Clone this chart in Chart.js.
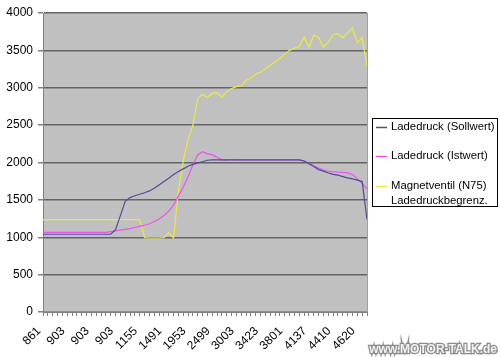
<!DOCTYPE html>
<html>
<head>
<meta charset="utf-8">
<script src="https://cdn.jsdelivr.net/npm/chart.js@4/dist/chart.umd.min.js"></script>
<style>
  html, body { margin: 0; padding: 0; background: #ffffff; }
  #c { display: block; }
</style>
</head>
<body>
<canvas id="c" width="500" height="357"></canvas>
<script>
// ---- data ----
const tickLabels = ['861','903','903','903','1155','1491','1953','2499','3003','3423','3801','4137','4410','4620'];
const categories = Array.from({length: 68}, (_, i) => String(i));

const sollwert = [
  1040,1040,1040,1040,1040,1040,1040,1040,1040,1040,1040,1040,1040,1040,1040,
  1100,1290,1480,1530,1555,1575,1595,1620,1655,1700,1745,1790,1840,1880,1915,
  1950,1975,1995,2010,2030,
  2035,2035,2035,2035,2035,2035,2035,2035,2035,2035,2035,2035,2035,2035,2035,2035,2035,2035,2035,
  2020,1985,1945,1905,1885,1860,1842,1830,1812,1795,1780,1765,1745,1240
];
const istwert = [
  1065,1065,1065,1065,1065,1065,1065,1065,1065,1065,1065,1065,1065,1065,
  1075,1085,1095,1105,1115,1130,1145,1160,1180,1210,1245,1290,1350,1430,1550,1670,
  1810,1970,2100,2145,2115,2105,2070,2035,2030,2040,
  2035,2035,2035,2035,2035,2035,2035,2035,2035,2035,2035,2035,2035,2035,
  2020,1990,1955,1925,1900,1880,1875,1870,1868,1862,1840,1785,1720,1645
];
const magnetventil = [
  1235,1235,1235,1235,1235,1235,1235,1235,1235,1235,1235,1235,1235,1235,1235,1235,1235,1235,1235,1235,1235,
  995,990,990,990,995,1060,990,1620,2020,2310,2500,2860,2910,2870,2925,2935,2870,2950,2990,
  3015,3025,3100,3130,3180,3210,3250,3300,3345,3390,3450,3500,3530,3550,3680,3545,3705,3670,
  3545,3610,3710,3725,3670,3735,3800,3600,3670,3290
];
const seriesNames = [['Ladedruck (Sollwert)'], ['Ladedruck (Istwert)'], ['Magnetventil (N75)', 'Ladedruckbegrenz.']];
const seriesColors = ['#4d4d9a', '#f050f0', '#eaea40'];

const FONT = 'Liberation Sans, Arial, sans-serif';

const bgPlugin = {
  id: 'bg',
  beforeDraw(chart) {
    const {ctx, chartArea: a} = chart;
    ctx.save();
    ctx.fillStyle = '#ffffff';
    ctx.fillRect(0, 0, chart.width, chart.height);
    ctx.fillStyle = '#c0c0c0';
    ctx.fillRect(a.left, a.top, a.right - a.left, a.bottom - a.top);
    ctx.restore();
  },
  afterDraw(chart) {
    const {ctx, chartArea: a} = chart;
    ctx.save();
    // right border of plot area
    ctx.strokeStyle = '#a0a0a0';
    ctx.lineWidth = 1;
    ctx.beginPath();
    ctx.moveTo(a.right + 0.5, a.top);
    ctx.lineTo(a.right + 0.5, a.bottom);
    ctx.stroke();

    // legend
    const lx = 372.5, ly = 118.5, lw = 125, lh = 88;
    ctx.fillStyle = '#ffffff';
    ctx.fillRect(lx, ly, lw, lh);
    ctx.strokeStyle = '#000000';
    ctx.lineWidth = 1;
    ctx.strokeRect(lx, ly, lw, lh);
    const rows = [127, 156, 186];
    ctx.font = '11.3px ' + FONT;
    ctx.textBaseline = 'middle';
    ctx.textAlign = 'left';
    chart.data.datasets.forEach((ds, i) => {
      const y = rows[i];
      ctx.strokeStyle = ds.borderColor;
      ctx.lineWidth = 1.5;
      ctx.beginPath();
      ctx.moveTo(376, y + 0.5);
      ctx.lineTo(387, y + 0.5);
      ctx.stroke();
      ctx.fillStyle = '#000000';
      const lines = Array.isArray(ds.label) ? ds.label : [ds.label];
      lines.forEach((t, k) => ctx.fillText(t, 391, y + k * 14.5));
    });

    // watermark
    ctx.font = 'bold 12px ' + FONT;
    ctx.textAlign = 'right';
    ctx.textBaseline = 'alphabetic';
    ctx.lineWidth = 2.5;
    ctx.strokeStyle = '#8c8c8c';
    ctx.strokeText('www.MOTOR-TALK.de', 497, 353);
    ctx.fillStyle = '#f2f2f2';
    ctx.fillText('www.MOTOR-TALK.de', 497, 353);
    ctx.restore();
  }
};

const datasets = [sollwert, istwert, magnetventil].map((d, i) => ({
  label: seriesNames[i],
  data: d,
  borderColor: seriesColors[i],
  backgroundColor: seriesColors[i],
  borderWidth: 1.2,
  pointRadius: 0,
  tension: 0,
  fill: false
}));

new Chart(document.getElementById('c'), {
  type: 'line',
  data: { labels: categories, datasets },
  options: {
    responsive: false,
    animation: false,
    devicePixelRatio: 1,
    layout: { padding: { top: 13, right: 133, left: 0, bottom: 0 } },
    plugins: { legend: { display: false }, tooltip: { enabled: false } },
    scales: {
      x: {
        type: 'category',
        offset: false,
        grid: { drawOnChartArea: false, drawTicks: true, tickLength: 4, tickColor: '#808080', lineWidth: 1 },
        border: { color: '#808080', width: 1 },
        ticks: {
          autoSkip: false,
          maxRotation: 45,
          minRotation: 45,
          padding: 8,
          labelOffset: -4,
          color: '#000000',
          font: { family: FONT, size: 12 },
          callback: (v, i) => (i % 5 === 0 && tickLabels[i / 5] !== undefined) ? tickLabels[i / 5] : ''
        },
        afterFit: s => { s.height = 45; }
      },
      y: {
        min: 0,
        max: 4000,
        ticks: { stepSize: 500, padding: 5, color: '#000000', font: { family: FONT, size: 12 }, callback: v => String(v) },
        grid: {
          color: c => c.tick && c.tick.value === 0 ? '#909090' : '#646464',
          lineWidth: 1.5,
          tickLength: 5,
          tickColor: '#808080'
        },
        border: { color: '#808080', width: 1 },
        afterFit: s => { s.width = 43; }
      }
    }
  },
  plugins: [bgPlugin]
});
</script>
</body>
</html>
